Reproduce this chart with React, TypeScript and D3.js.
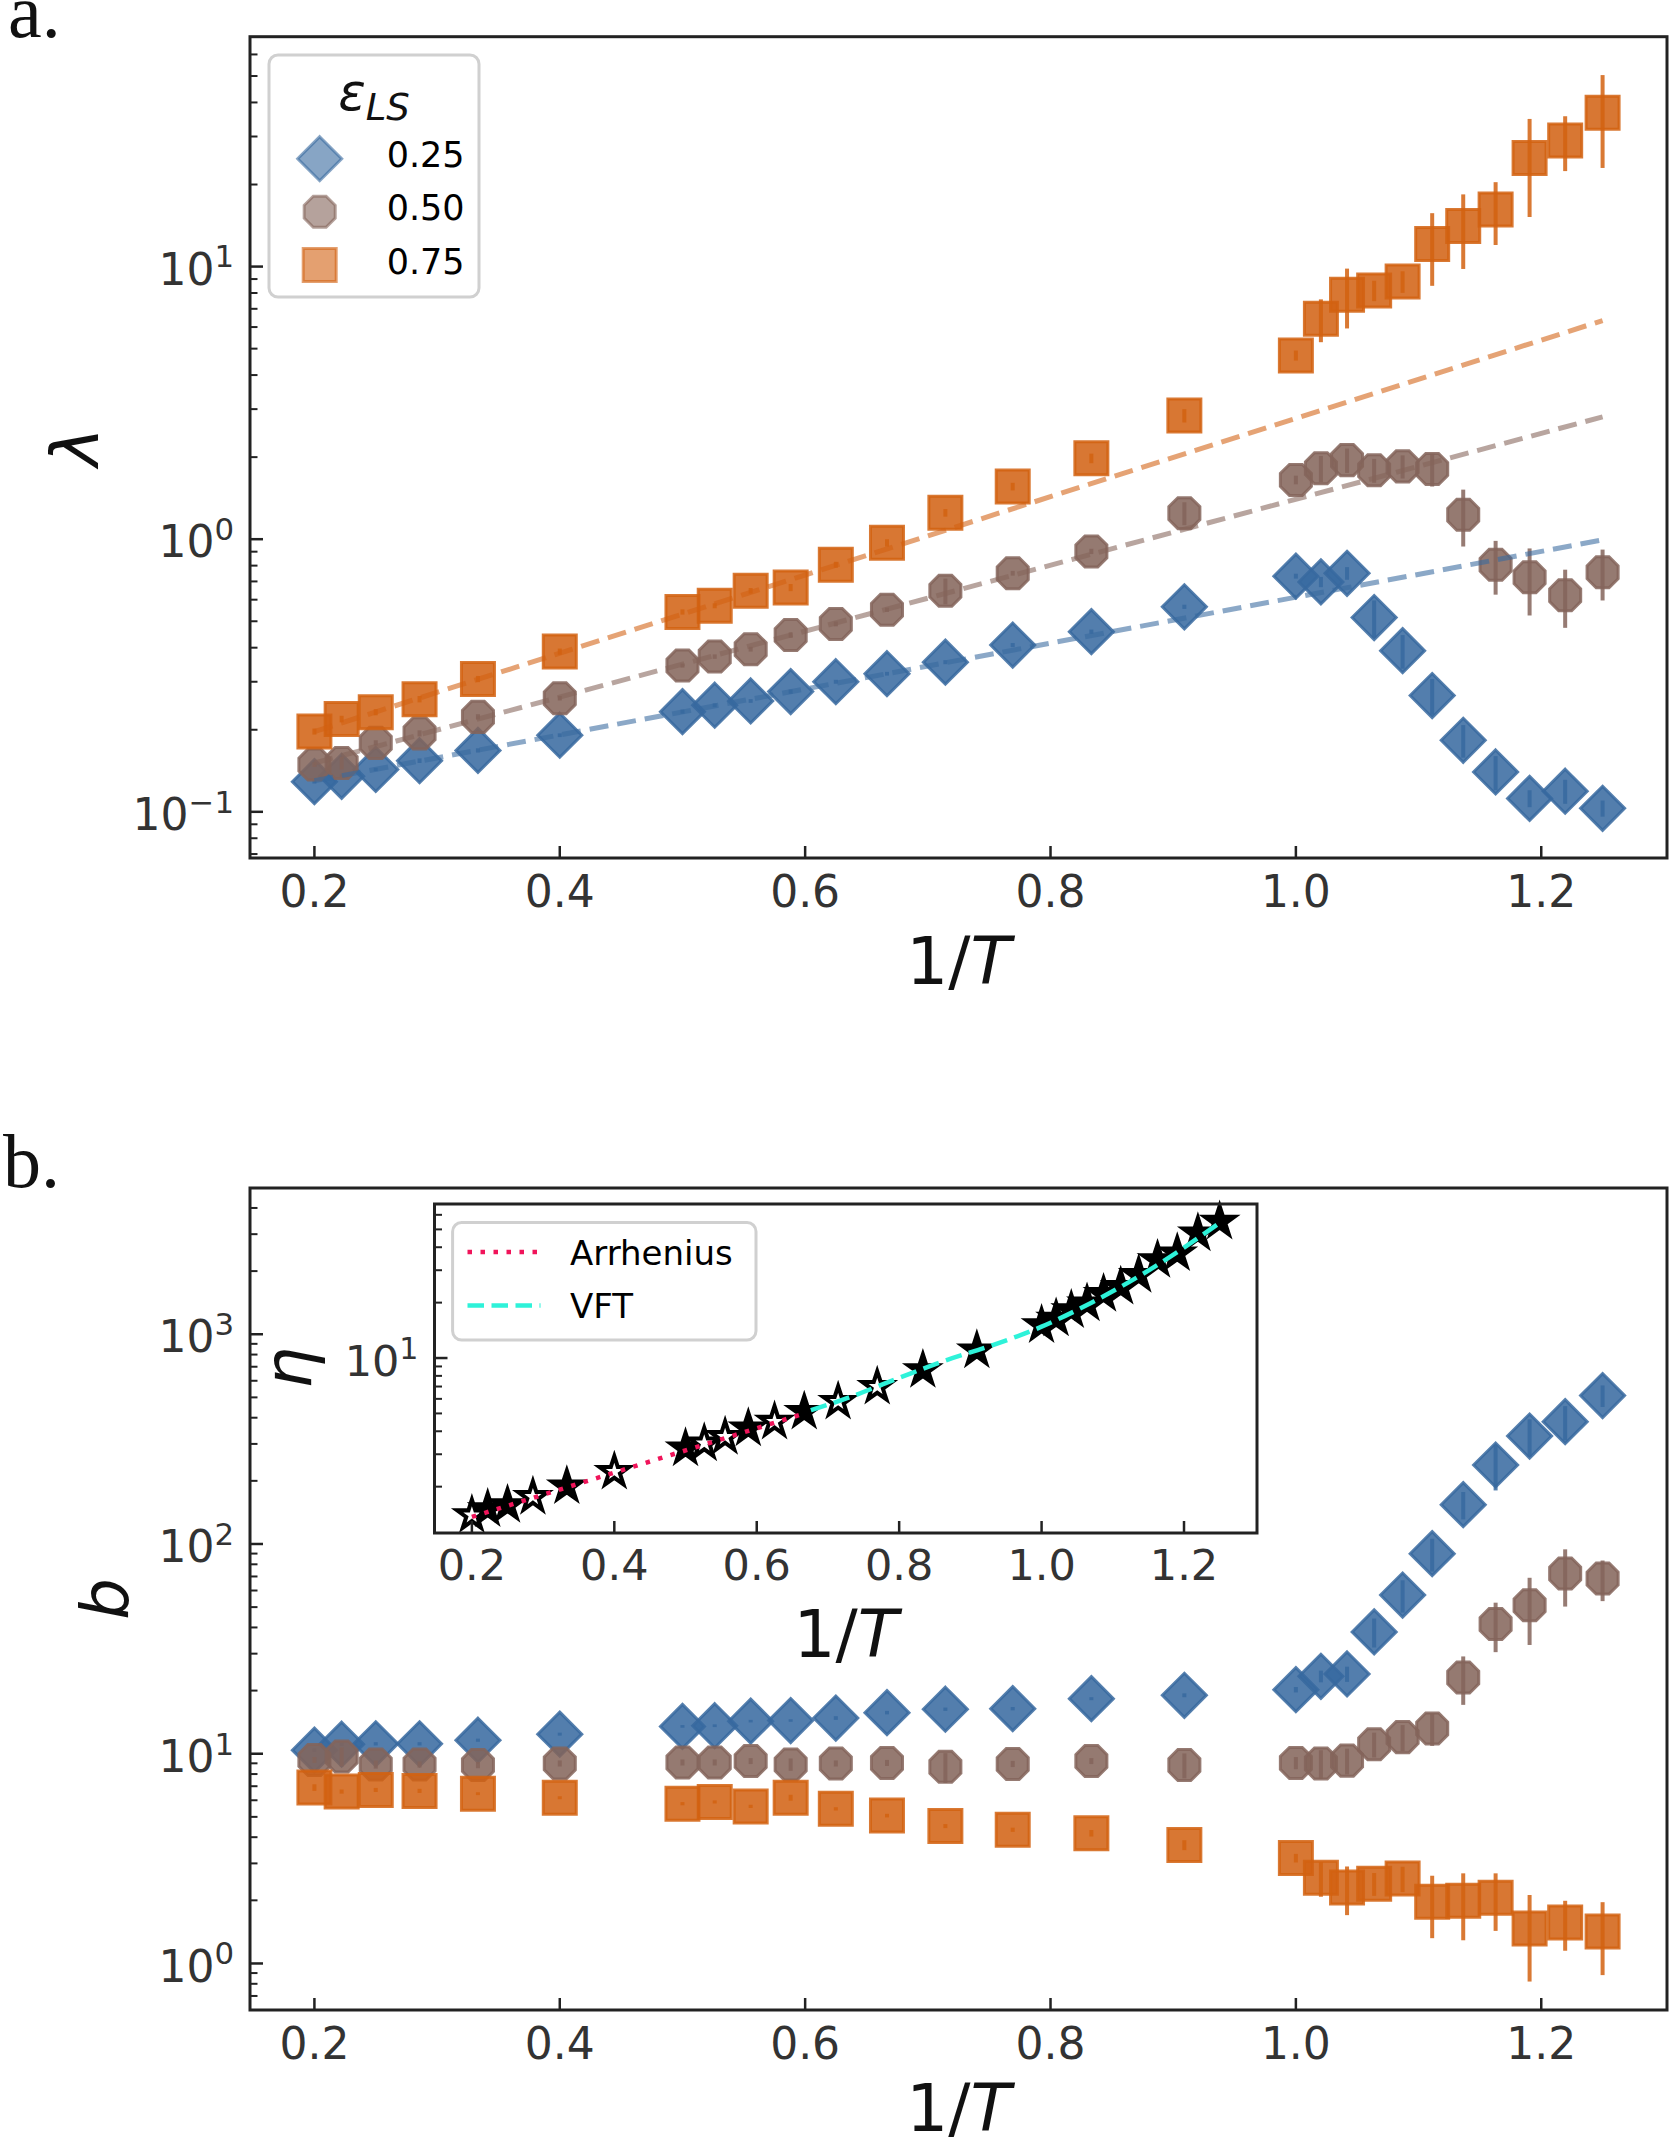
import React from 'react';
import * as d3 from 'd3';

// 1/T values shared by every series
const invT = [
  0.2, 0.2222, 0.25, 0.2857, 0.3333, 0.4, 0.5, 0.5263, 0.5556, 0.5882, 0.625, 0.6667, 0.7143,
  0.7692, 0.8333, 0.9091, 1.0, 1.0204, 1.0417, 1.0638, 1.087, 1.1111, 1.1364, 1.1628, 1.1905,
  1.2195, 1.25,
];

const epsLabels = ['0.25', '0.50', '0.75'];
const epsColors = ['#37699f', '#84645a', '#d26111'];
const epsShapes = ['diamond', 'octagon', 'square'];

// panel a: lambda
const lambda25 = [
  0.129, 0.135, 0.143, 0.154, 0.168, 0.191, 0.233, 0.246, 0.255, 0.276, 0.3, 0.321, 0.354, 0.409,
  0.458, 0.565, 0.732, 0.697, 0.75, 0.516, 0.39, 0.267, 0.183, 0.14, 0.112, 0.119, 0.103,
];
const lambda25Err = [
  0.002, 0.002, 0.002, 0.003, 0.003, 0.003, 0.004, 0.004, 0.004, 0.005, 0.005, 0.005, 0.006, 0.007,
  0.008, 0.01, 0.015, 0.03, 0.04, 0.08, 0.055, 0.04, 0.025, 0.02, 0.008, 0.012, 0.007,
];
const lambda50 = [
  0.149, 0.151, 0.179, 0.194, 0.223, 0.261, 0.344, 0.371, 0.395, 0.445, 0.489, 0.551, 0.647, 0.75,
  0.902, 1.246, 1.65, 1.82, 1.95, 1.79, 1.85, 1.81, 1.23, 0.806, 0.725, 0.623, 0.756,
];
const lambda50Err = [
  0.003, 0.008, 0.004, 0.005, 0.005, 0.005, 0.006, 0.007, 0.008, 0.01, 0.01, 0.01, 0.07, 0.015,
  0.02, 0.12, 0.06, 0.2, 0.2, 0.18, 0.18, 0.25, 0.29, 0.18, 0.2, 0.15, 0.16,
];
const lambda75 = [
  0.197, 0.219, 0.232, 0.259, 0.307, 0.387, 0.541, 0.57, 0.647, 0.665, 0.806, 0.97, 1.25, 1.56,
  1.98, 2.84, 4.72, 6.43, 7.88, 8.17, 8.81, 12.1, 14.1, 16.2, 25.0, 29.0, 36.7,
];
const lambda75Err = [
  0.005, 0.006, 0.006, 0.007, 0.008, 0.01, 0.012, 0.012, 0.015, 0.02, 0.02, 0.03, 0.04, 0.05, 0.08,
  0.16, 0.2, 1.15, 1.95, 0.7, 0.8, 3.6, 4.3, 4.2, 9.8, 6.6, 13.7,
];
// dashed Arrhenius fits (end points)
const lambdaFitX = [0.2, 1.25];
const lambdaFit25 = [0.13, 0.994];
const lambdaFit50 = [0.151, 2.81];
const lambdaFit75 = [0.197, 6.34];

// panel b: b
const b25 = [
  10.4, 11.1, 11.15, 11.15, 11.6, 12.4, 13.5, 13.6, 14.3, 14.4, 14.8, 15.7, 16.3, 16.4, 18.3, 19.0,
  20.2, 23.4, 24.0, 38.1, 57.1, 89.9, 154, 238, 327, 383, 510,
];
const b25Err = [
  0.2, 0.2, 0.2, 0.2, 0.2, 0.2, 0.2, 0.2, 0.2, 0.2, 0.3, 0.3, 0.3, 0.3, 0.3, 0.4, 0.6, 1.5, 2.0, 6,
  10, 16, 23, 58, 66, 71, 60,
];
const b50 = [
  9.34, 9.7, 8.89, 8.89, 8.83, 8.99, 9.09, 9.09, 9.23, 8.89, 8.99, 9.04, 8.66, 8.94, 9.23, 8.83,
  9.04, 8.99, 9.27, 11.1, 12.0, 13.2, 23.1, 41.5, 51, 72.3, 68.4,
];
const b50Err = [
  0.3, 1.0, 0.4, 0.3, 0.3, 0.3, 0.3, 0.3, 0.3, 0.6, 0.3, 0.3, 1.4, 0.3, 0.3, 1.2, 0.6, 1.4, 1.3,
  1.5, 1.7, 2.3, 6, 11, 18, 22, 15,
];
const b75 = [
  6.9, 6.6, 6.72, 6.65, 6.45, 6.17, 5.78, 5.89, 5.61, 6.17, 5.46, 5.07, 4.52, 4.34, 4.18, 3.67,
  3.18, 2.56, 2.3, 2.4, 2.54, 1.97, 1.99, 2.06, 1.47, 1.57, 1.42,
];
const b75Err = [
  0.25, 0.15, 0.15, 0.15, 0.1, 0.1, 0.1, 0.1, 0.1, 0.2, 0.1, 0.1, 0.1, 0.1, 0.15, 0.2, 0.15, 0.48,
  0.6, 0.3, 0.35, 0.65, 0.7, 0.63, 0.65, 0.42, 0.54,
];

// inset: eta
const eta = [
  1.4, 1.51, 1.59, 1.76, 2.01, 2.41, 3.23, 3.44, 3.73, 4.15, 4.51, 5.11, 5.79, 6.98, 8.61, 11.0,
  15.1, 16.4, 18.2, 19.8, 22.3, 24.4, 28.3, 34.1, 37.1, 47.6, 55.1,
];
const etaHollow = [
  true, false, false, true, false, true, false, true, true, false, true, false, true, true, false,
  false, false, false, false, false, false, false, false, false, false, false, false,
];
const arrheniusX = [0.2, 0.667];
const arrheniusY = [1.37, 5.0];
const vftX = [0.676, 0.72, 0.8, 0.86, 0.93, 1.0, 1.07, 1.14, 1.2, 1.25];
const vftY = [5.21, 5.92, 7.8, 9.55, 11.7, 14.8, 20.0, 28.3, 39.8, 54.3];

const xTicks = [0.2, 0.4, 0.6, 0.8, 1.0, 1.2];

const FONT = 'DejaVu Sans';
const INK = '#222';
const TICK_TEXT = '#333';

function markerPath(shape: string): string {
  if (shape === 'diamond') return 'M0,-22L22,0L0,22L-22,0Z';
  if (shape === 'square') return 'M-16.5,-16.5h33v33h-33Z';
  const R = 16.8;
  const pts = d3.range(8).map((k) => {
    const a = ((22.5 + k * 45) * Math.PI) / 180;
    return [R * Math.cos(a), R * Math.sin(a)];
  });
  return 'M' + pts.map((p) => p[0].toFixed(2) + ',' + p[1].toFixed(2)).join('L') + 'Z';
}

function starPath(R: number): string {
  const r = R * 0.381966;
  const pts = d3.range(10).map((k) => {
    const rad = k % 2 === 0 ? R : r;
    const a = (-90 + k * 36) * (Math.PI / 180);
    return [rad * Math.cos(a), rad * Math.sin(a)];
  });
  return 'M' + pts.map((p) => p[0].toFixed(2) + ',' + p[1].toFixed(2)).join('L') + 'Z';
}

function isDecade(t: number) {
  const l = Math.log10(t);
  return Math.abs(l - Math.round(l)) < 1e-6;
}

interface Box {
  x0: number;
  x1: number;
  y0: number;
  y1: number;
}

const LogAxes: React.FC<{
  box: Box;
  y: d3.ScaleLogarithmic<number, number>;
  x: d3.ScaleLinear<number, number>;
  fontSize: number;
  labelGap: number;
}> = ({ box, y, x, fontSize, labelGap }) => {
  const ticks = y.ticks();
  const sup = fontSize * 0.7;
  return (
    <g>
      {ticks.map((t, i) => {
        const major = isDecade(t);
        const yy = y(t);
        const e = Math.round(Math.log10(t));
        return (
          <g key={i}>
            <line
              x1={box.x0}
              x2={box.x0 + (major ? 13 : 7.5)}
              y1={yy}
              y2={yy}
              stroke={INK}
              strokeWidth={major ? 2.5 : 2}
            />
            {major && (
              <text
                x={box.x0 - 16}
                y={yy + fontSize * 0.41}
                textAnchor="end"
                fontSize={fontSize}
                fontFamily={FONT}
                fill={TICK_TEXT}
              >
                10
                <tspan dy={-fontSize * 0.39} fontSize={sup}>
                  {e < 0 ? '\u2212' + Math.abs(e) : String(e)}
                </tspan>
              </text>
            )}
          </g>
        );
      })}
      {xTicks.map((t, i) => (
        <g key={'x' + i}>
          <line x1={x(t)} x2={x(t)} y1={box.y1} y2={box.y1 - 12} stroke={INK} strokeWidth={2.5} />
          <text
            x={x(t)}
            y={box.y1 + labelGap}
            textAnchor="middle"
            fontSize={fontSize}
            fontFamily={FONT}
            fill={TICK_TEXT}
          >
            {t.toFixed(1)}
          </text>
        </g>
      ))}
      <rect
        x={box.x0}
        y={box.y0}
        width={box.x1 - box.x0}
        height={box.y1 - box.y0}
        fill="none"
        stroke={INK}
        strokeWidth={3}
      />
    </g>
  );
};

const Series: React.FC<{
  x: d3.ScaleLinear<number, number>;
  y: d3.ScaleLogarithmic<number, number>;
  values: number[];
  errs: number[];
  idx: number;
}> = ({ x, y, values, errs, idx }) => {
  const c = epsColors[idx];
  const d = markerPath(epsShapes[idx]);
  return (
    <g>
      {values.map((v, j) => (
        <path
          key={'m' + j}
          d={d}
          transform={`translate(${x(invT[j])},${y(v)})`}
          fill={c}
          fillOpacity={0.86}
          stroke={c}
          strokeOpacity={0.85}
          strokeWidth={3}
        />
      ))}
      {values.map((v, j) => (
        <line
          key={'e' + j}
          x1={x(invT[j])}
          x2={x(invT[j])}
          y1={y(v + errs[j])}
          y2={y(Math.max(v - errs[j], 1e-3))}
          stroke={c}
          strokeOpacity={0.85}
          strokeWidth={4}
        />
      ))}
    </g>
  );
};

const App: React.FC = () => {
  const W = 1670;
  const H = 2139;

  const boxA: Box = { x0: 250, x1: 1667, y0: 36.7, y1: 858 };
  const boxB: Box = { x0: 250, x1: 1667, y0: 1188, y1: 2010 };
  const boxI: Box = { x0: 434.5, x1: 1257, y0: 1204, y1: 1533 };
  const xDomain: [number, number] = [0.1475, 1.3025];

  const xA = d3.scaleLinear().domain(xDomain).range([boxA.x0, boxA.x1]);
  const yA = d3.scaleLog().domain([0.0677, 69.7]).range([boxA.y1, boxA.y0]);
  const xB = d3.scaleLinear().domain(xDomain).range([boxB.x0, boxB.x1]);
  const yB = d3.scaleLog().domain([0.6, 4980]).range([boxB.y1, boxB.y0]);
  const xI = d3.scaleLinear().domain(xDomain).range([boxI.x0, boxI.x1]);
  const yI = d3.scaleLog().domain([1.12, 68.7]).range([boxI.y1, boxI.y0]);

  const lambdaSeries = [
    [lambda25, lambda25Err],
    [lambda50, lambda50Err],
    [lambda75, lambda75Err],
  ];
  const lambdaFits = [lambdaFit25, lambdaFit50, lambdaFit75];
  const bSeries = [
    [b25, b25Err],
    [b50, b50Err],
    [b75, b75Err],
  ];

  const fitLine = d3
    .line<[number, number]>()
    .x((p) => xA(p[0]))
    .y((p) => yA(p[1]));
  const insetLine = d3
    .line<[number, number]>()
    .x((p) => xI(p[0]))
    .y((p) => yI(p[1]));
  const insetCurve = d3
    .line<[number, number]>()
    .x((p) => xI(p[0]))
    .y((p) => yI(p[1]))
    .curve(d3.curveMonotoneX);

  const starBig = starPath(18);
  const starSmall = starPath(9);

  const legendRows = [158.7, 211.7, 265];

  return (
    <svg
      width={W}
      height={H}
      viewBox={`0 0 ${W} ${H}`}
      style={{ position: 'absolute', left: 0, top: 0, background: '#fff' }}
    >
      <rect x={0} y={0} width={W} height={H} fill="#fff" />

      {/* panel labels */}
      <text x={8} y={37} fontSize={76} fontFamily="Liberation Serif" fill="#111">
        a.
      </text>
      <text x={3} y={1187} fontSize={76} fontFamily="Liberation Serif" fill="#111">
        b.
      </text>

      {/* ---------- panel a ---------- */}
      {lambdaSeries.map((s, i) => (
        <Series key={i} x={xA} y={yA} values={s[0]} errs={s[1]} idx={i} />
      ))}
      {lambdaFits.map((f, i) => (
        <path
          key={'fit' + i}
          d={fitLine(lambdaFitX.map((xv, k) => [xv, f[k]] as [number, number])) || ''}
          fill="none"
          stroke={epsColors[i]}
          strokeOpacity={0.58}
          strokeWidth={5}
          strokeDasharray="19 9"
        />
      ))}
      <LogAxes box={boxA} x={xA} y={yA} fontSize={44} labelGap={49} />
      <text
        x={(boxA.x0 + boxA.x1) / 2}
        y={983.6}
        textAnchor="middle"
        fontSize={66}
        fontFamily={FONT}
        fill="#111"
      >
        1/<tspan fontStyle="italic">T</tspan>
      </text>
      <text
        transform="translate(98,447) rotate(-90)"
        textAnchor="middle"
        fontSize={66}
        fontFamily={FONT}
        fontStyle="italic"
        fill="#111"
      >
        λ
      </text>

      {/* legend a */}
      <rect
        x={269}
        y={55}
        width={210}
        height={242}
        rx={9}
        fill="#fff"
        fillOpacity={0.85}
        stroke="#d0d0d0"
        strokeWidth={3}
      />
      <text
        x={374}
        y={110}
        textAnchor="middle"
        fontSize={51}
        fontFamily={FONT}
        fontStyle="italic"
        fill="#111"
      >
        ε<tspan fontSize={37} dy={10}>LS</tspan>
      </text>
      {epsLabels.map((lab, i) => (
        <g key={'lg' + i}>
          <path
            d={markerPath(epsShapes[i])}
            transform={`translate(319.7,${legendRows[i]})`}
            fill={epsColors[i]}
            fillOpacity={0.6}
            stroke={epsColors[i]}
            strokeOpacity={0.6}
            strokeWidth={3}
          />
          <text
            x={386.7}
            y={legendRows[i] + 8.5}
            fontSize={35}
            fontFamily={FONT}
            fill="#000"
          >
            {lab}
          </text>
        </g>
      ))}

      {/* ---------- panel b ---------- */}
      {bSeries.map((s, i) => (
        <Series key={'b' + i} x={xB} y={yB} values={s[0]} errs={s[1]} idx={i} />
      ))}
      <LogAxes box={boxB} x={xB} y={yB} fontSize={44} labelGap={49} />
      <text
        x={(boxB.x0 + boxB.x1) / 2}
        y={2131}
        textAnchor="middle"
        fontSize={66}
        fontFamily={FONT}
        fill="#111"
      >
        1/<tspan fontStyle="italic">T</tspan>
      </text>
      <text
        transform="translate(128,1599) rotate(-90)"
        textAnchor="middle"
        fontSize={66}
        fontFamily={FONT}
        fontStyle="italic"
        fill="#111"
      >
        b
      </text>

      {/* ---------- inset ---------- */}
      <rect
        x={boxI.x0}
        y={boxI.y0}
        width={boxI.x1 - boxI.x0}
        height={boxI.y1 - boxI.y0}
        fill="#fff"
      />
      {eta.map((v, j) => (
        <g key={'s' + j} transform={`translate(${xI(invT[j])},${yI(v)})`}>
          <path d={starBig} fill="#000" stroke="#000" strokeWidth={2.5} strokeLinejoin="miter" />
          {etaHollow[j] && <path d={starSmall} fill="#fff" />}
        </g>
      ))}
      <path
        d={insetLine(arrheniusX.map((xv, k) => [xv, arrheniusY[k]] as [number, number])) || ''}
        fill="none"
        stroke="#f0145a"
        strokeWidth={4.5}
        strokeDasharray="4.5 8.5"
      />
      <path
        d={insetCurve(vftX.map((xv, k) => [xv, vftY[k]] as [number, number])) || ''}
        fill="none"
        stroke="#2ef2d9"
        strokeWidth={4.5}
        strokeDasharray="16.5 7.5"
      />
      <LogAxes box={boxI} x={xI} y={yI} fontSize={43} labelGap={47} />
      <text
        x={(boxI.x0 + boxI.x1) / 2}
        y={1657}
        textAnchor="middle"
        fontSize={66}
        fontFamily={FONT}
        fill="#111"
      >
        1/<tspan fontStyle="italic">T</tspan>
      </text>
      <text
        transform="translate(311,1368) rotate(-90)"
        textAnchor="middle"
        fontSize={66}
        fontFamily={FONT}
        fontStyle="italic"
        fill="#111"
      >
        η
      </text>

      {/* legend inset */}
      <rect
        x={452.6}
        y={1222.5}
        width={303.4}
        height={117.5}
        rx={9}
        fill="#fff"
        fillOpacity={0.85}
        stroke="#d0d0d0"
        strokeWidth={3}
      />
      <line
        x1={467.5}
        x2={540.5}
        y1={1252}
        y2={1252}
        stroke="#f0145a"
        strokeWidth={4.5}
        strokeDasharray="4.5 8.5"
      />
      <text x={570} y={1264.6} fontSize={34} fontFamily={FONT} fill="#000">
        Arrhenius
      </text>
      <line
        x1={467.5}
        x2={540.5}
        y1={1305.5}
        y2={1305.5}
        stroke="#2ef2d9"
        strokeWidth={4.5}
        strokeDasharray="16.5 7.5"
      />
      <text x={570} y={1318} fontSize={34} fontFamily={FONT} fill="#000">
        VFT
      </text>
    </svg>
  );
};

export default App;
